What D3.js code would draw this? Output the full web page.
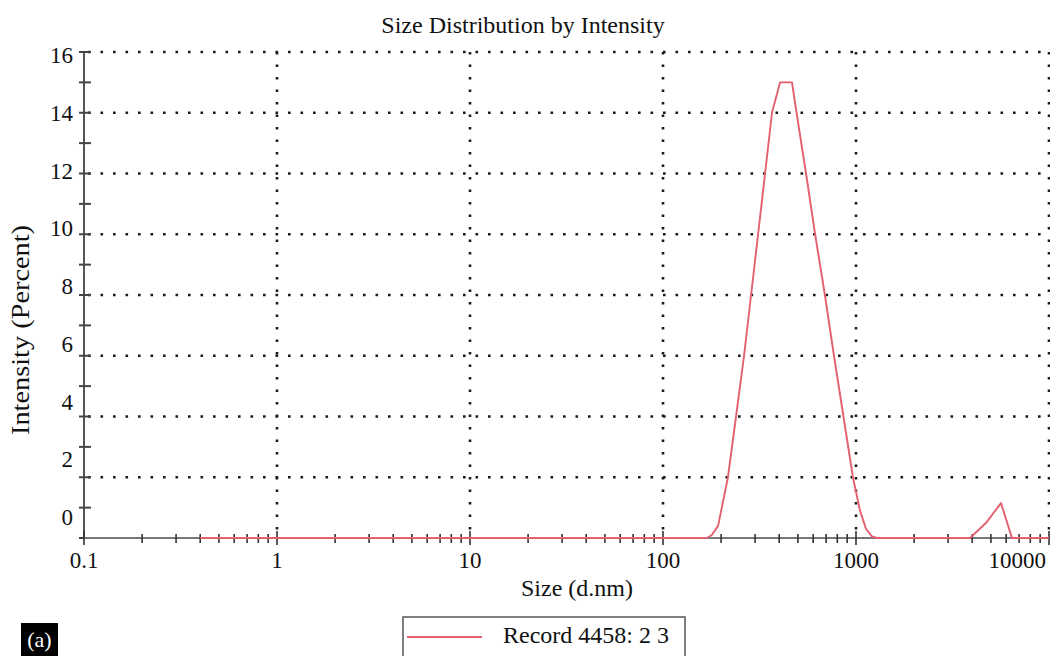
<!DOCTYPE html>
<html>
<head>
<meta charset="utf-8">
<script src="https://cdn.jsdelivr.net/npm/d3@7"></script>
<style>
  body { margin: 0; background: #fff; }
  text { font-family: "Times New Roman", "Liberation Serif", serif; fill: #111; }
</style>
</head>
<body>
<div id="chart"></div>
<script>
// size (d.nm) vs intensity (%)
const sizes = [0.4, 169, 179, 193, 217, 239, 263, 286, 311, 338, 367, 404, 466, 492, 551, 614, 690, 769, 861, 964, 1049, 1127, 1211, 1285, 3900, 4720, 5640, 6430, 10000];
const intensity = [0, 0, 0.1, 0.4, 2, 4, 6, 8, 10, 12, 14, 15, 15, 14, 12, 10, 8, 6, 4, 2, 0.9, 0.3, 0.05, 0, 0, 0.5, 1.15, 0, 0];
const xTicks = [0.1, 1, 10, 100, 1000, 10000];
const yTickLabels = [0, 2, 4, 6, 8, 10, 12, 14, 16];
const yGrid = [2, 4, 6, 8, 10, 12, 14, 16];
const seriesName = "Record 4458: 2 3";

const width = 1050, height = 656;
const svg = d3.select("#chart").append("svg")
  .attr("width", width).attr("height", height);

const x = d3.scaleLog().domain([0.1, 10000]).range([84, 1049]);
const y = d3.scaleLinear().domain([0, 16]).range([538, 52]);
// the labels in the original sit on their own, slightly tighter spacing
const yLab = d3.scaleLinear().domain([0, 16]).range([517, 55]);

const dotColor = "#1a1a1a", dotW = 2.6, dotDash = "2.6,9.9";
const red = "#e4606e";

// horizontal dotted grid
svg.append("g").selectAll("line").data(yGrid).join("line")
  .attr("x1", x(0.1) + 4).attr("x2", width)
  .attr("y1", d => y(d)).attr("y2", d => y(d))
  .attr("stroke", dotColor).attr("stroke-width", dotW)
  .attr("stroke-dasharray", dotDash);

// vertical dotted grid
svg.append("g").selectAll("line").data(xTicks.slice(1)).join("line")
  .attr("x1", d => x(d)).attr("x2", d => x(d))
  .attr("y1", y(16)).attr("y2", y(0))
  .attr("stroke", dotColor).attr("stroke-width", dotW)
  .attr("stroke-dasharray", dotDash);

// y axis
const yAxis = svg.append("g");
yAxis.append("line").attr("x1", x(0.1)).attr("x2", x(0.1))
  .attr("y1", y(16)).attr("y2", y(0))
  .attr("stroke", "#555").attr("stroke-width", 2);
yAxis.selectAll("line.t").data(d3.range(0, 17)).join("line").attr("class", "t")
  .attr("x1", x(0.1) - 5).attr("x2", x(0.1) + 7)
  .attr("y1", d => y(d)).attr("y2", d => y(d))
  .attr("stroke", "#444").attr("stroke-width", 2);
yAxis.selectAll("text").data(yTickLabels).join("text")
  .attr("x", x(0.1) - 11).attr("y", d => yLab(d))
  .attr("dy", "0.35em").attr("text-anchor", "end")
  .attr("font-size", 23).text(d => d);

// x axis
const xAxis = svg.append("g");
xAxis.append("line").attr("x1", x(0.1)).attr("x2", width)
  .attr("y1", y(0)).attr("y2", y(0))
  .attr("stroke", "#777").attr("stroke-width", 2);
const minor = x.ticks().filter(d => d >= 0.1 && d <= 10000);
xAxis.selectAll("line.t").data(minor).join("line").attr("class", "t")
  .attr("x1", d => x(d)).attr("x2", d => x(d))
  .attr("y1", d => y(0) - (xTicks.includes(d) ? 7 : 4))
  .attr("y2", d => y(0) + (xTicks.includes(d) ? 7 : 5))
  .attr("stroke", "#333").attr("stroke-width", 1.6);
xAxis.selectAll("text").data(xTicks).join("text")
  .attr("x", d => x(d) - (d === 10000 ? 3 : 0)).attr("y", 568)
  .attr("text-anchor", d => d === 10000 ? "end" : "middle")
  .attr("font-size", 23).text(d => d);

// curve
const line = d3.line().x(d => x(d[0])).y(d => y(d[1]));
svg.append("path").datum(d3.zip(sizes, intensity))
  .attr("d", line).attr("fill", "none")
  .attr("stroke", red).attr("stroke-width", 1.9).attr("stroke-linejoin", "round");

// titles
svg.append("text").attr("x", 523).attr("y", 33).attr("text-anchor", "middle")
  .attr("font-size", 24).text("Size Distribution by Intensity");
svg.append("text").attr("x", 577).attr("y", 596).attr("text-anchor", "middle")
  .attr("font-size", 24).text("Size (d.nm)");
svg.append("text").attr("transform", "translate(29,330) rotate(-90)")
  .attr("text-anchor", "middle").attr("font-size", 25)
  .attr("textLength", 210).attr("lengthAdjust", "spacingAndGlyphs")
  .text("Intensity (Percent)");

// legend
const lg = svg.append("g").attr("transform", "translate(403,617)");
lg.append("rect").attr("width", 282).attr("height", 50)
  .attr("fill", "#fff").attr("stroke", "#555").attr("stroke-width", 1.5);
lg.append("line").attr("x1", 4).attr("x2", 79).attr("y1", 20).attr("y2", 20)
  .attr("stroke", red).attr("stroke-width", 2);
lg.append("text").attr("x", 100).attr("y", 26).attr("font-size", 24).text(seriesName);

// panel tag
const tag = svg.append("g").attr("transform", "translate(21,623)");
tag.append("rect").attr("width", 37).attr("height", 33).attr("fill", "#000");
tag.append("text").attr("x", 18.5).attr("y", 24).attr("text-anchor", "middle")
  .attr("font-size", 22).style("fill", "#fff").text("(a)");
</script>
</body>
</html>
